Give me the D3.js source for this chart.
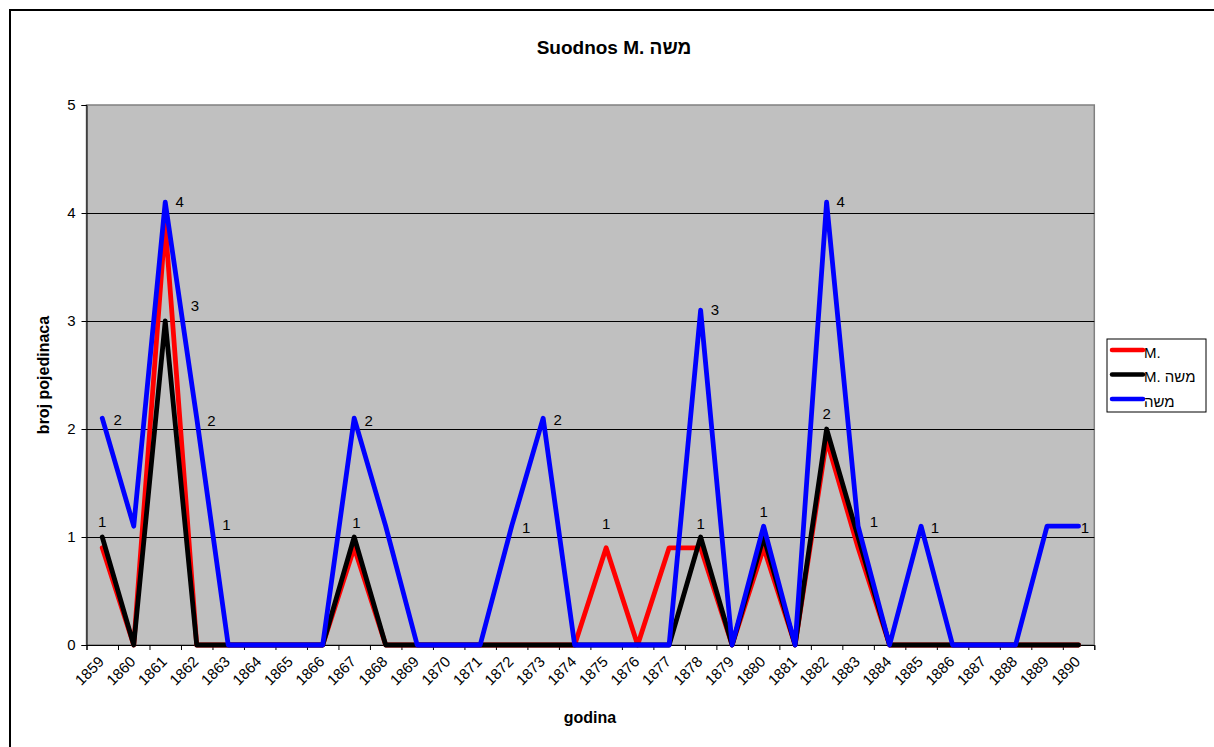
<!DOCTYPE html>
<html>
<head>
<meta charset="utf-8">
<script src="https://cdn.jsdelivr.net/npm/d3@7"></script>
<style>
  body { margin: 0; background: #fff; }
  text { font-family: "Liberation Sans", Arial, sans-serif; }
</style>
</head>
<body>
<div id="chart"></div>
<script>
// years on the x axis
var years = d3.range(1859, 1891);

// series values as plotted (Excel chart shifts the lines slightly)
var seriesNames = ["M.", "M. משה", "משה"];
var seriesColors = ["#ff0000", "#000000", "#0000ff"];

var valuesM = [0.9, 0, 3.9, 0, 0, 0, 0, 0, 0.9, 0, 0, 0, 0, 0, 0, 0,
               0.9, 0, 0.9, 0.9, 0, 0.9, 0, 1.9, 0.9, 0, 0, 0, 0, 0, 0, 0];
var valuesMMoshe = [1, 0, 3, 0, 0, 0, 0, 0, 1, 0, 0, 0, 0, 0, 0, 0,
                    0, 0, 0, 1, 0, 1, 0, 2, 1, 0, 0, 0, 0, 0, 0, 0];
var valuesMoshe = [2.1, 1.1, 4.1, 2.1, 0, 0, 0, 0, 2.1, 1.1, 0, 0, 0, 1.1, 2.1, 0,
                   0, 0, 0, 3.1, 0, 1.1, 0, 4.1, 1.1, 0, 1.1, 0, 0, 0, 1.1, 1.1];

// data labels (year position, value position, text)
var labelYears = [1859, 1859.49, 1861.46, 1861.94, 1862.47, 1862.94, 1867.07, 1867.46,
                  1872.46, 1873.46, 1875, 1878, 1878.45, 1880, 1882, 1882.45, 1883.5,
                  1885.44, 1890.2];
var labelValues = [1.14, 2.09, 4.1, 3.14, 2.08, 1.11, 1.13, 2.08,
                   1.09, 2.09, 1.12, 1.12, 3.1, 1.23, 2.14, 4.1, 1.14,
                   1.09, 1.09];
var labelTexts = ["1", "2", "4", "3", "2", "1", "1", "2",
                  "1", "2", "1", "1", "3", "1", "2", "4", "1",
                  "1", "1"];

var yTicks = [0, 1, 2, 3, 4, 5];

var svgWidth = 1214;
var svgHeight = 747;

var plot = { left: 86.5, right: 1094.3, top: 105, bottom: 645 };

var svg = d3.select("#chart")
  .append("svg")
  .attr("width", svgWidth)
  .attr("height", svgHeight);

// outer chart border (runs off right/bottom edge)
svg.append("rect")
  .attr("x", 10)
  .attr("y", 10)
  .attr("width", svgWidth + 20)
  .attr("height", svgHeight + 20)
  .attr("fill", "#fff")
  .attr("stroke", "#000")
  .attr("stroke-width", 2);

var x = d3.scaleLinear()
  .domain([1858.5, 1890.5])
  .range([plot.left, plot.right]);

var y = d3.scaleLinear()
  .domain([0, 5])
  .range([plot.bottom, plot.top]);

// plot background
svg.append("rect")
  .attr("x", plot.left)
  .attr("y", plot.top)
  .attr("width", plot.right - plot.left)
  .attr("height", plot.bottom - plot.top)
  .attr("fill", "#c0c0c0")
  .attr("stroke", "#808080")
  .attr("stroke-width", 1.5);

// gridlines
svg.append("g")
  .selectAll("line")
  .data(yTicks.slice(1, 5))
  .enter()
  .append("line")
  .attr("x1", plot.left)
  .attr("x2", plot.right)
  .attr("y1", d => Math.round(y(d)) + 0.5)
  .attr("y2", d => Math.round(y(d)) + 0.5)
  .attr("stroke", "#000")
  .attr("stroke-width", 1);

// y axis
var leftAxis = d3.axisLeft(y)
  .tickValues(yTicks)
  .tickSize(5)
  .tickPadding(6)
  .tickFormat(d3.format("d"));

var yAxisG = svg.append("g")
  .attr("transform", `translate(${plot.left}, 0)`)
  .call(leftAxis);
yAxisG.select(".domain").attr("stroke", "#000");
yAxisG.selectAll("text")
  .attr("font-size", 15)
  .attr("font-family", "Liberation Sans, Arial, sans-serif")
  .attr("fill", "#000");

// x axis: tick marks between categories, labels on categories
var tickBounds = d3.range(1858.5, 1891.5, 1);
var xTickAxis = d3.axisBottom(x)
  .tickValues(tickBounds)
  .tickSize(5)
  .tickFormat("");

var xAxisG = svg.append("g")
  .attr("transform", `translate(0, ${plot.bottom})`)
  .call(xTickAxis);
xAxisG.select(".domain").attr("stroke", "#000");

svg.append("g")
  .selectAll("text")
  .data(years)
  .enter()
  .append("text")
  .attr("transform", d => `translate(${x(d) - 1}, ${plot.bottom + 14}) rotate(-45)`)
  .attr("text-anchor", "end")
  .attr("dy", "0.35em")
  .attr("font-size", 15)
  .attr("fill", "#000")
  .text(d => d);

// lines
var allSeries = [valuesM, valuesMMoshe, valuesMoshe];

var line = d3.line()
  .x((d, i) => x(years[i]))
  .y(d => y(d));

svg.append("g")
  .selectAll("path")
  .data(allSeries)
  .enter()
  .append("path")
  .attr("d", d => line(d))
  .attr("fill", "none")
  .attr("stroke", (d, i) => seriesColors[i])
  .attr("stroke-width", 4.8)
  .attr("stroke-linejoin", "round")
  .attr("stroke-linecap", "round");

// data labels
svg.append("g")
  .selectAll("text")
  .data(labelTexts)
  .enter()
  .append("text")
  .attr("x", (d, i) => x(labelYears[i]))
  .attr("y", (d, i) => y(labelValues[i]))
  .attr("dy", "0.35em")
  .attr("text-anchor", "middle")
  .attr("font-size", 15)
  .attr("fill", "#000")
  .text(d => d);

// title
svg.append("text")
  .attr("x", 614)
  .attr("y", 54)
  .attr("text-anchor", "middle")
  .attr("font-size", 19)
  .attr("font-weight", "bold")
  .text("Suodnos M. משה");

// axis titles
svg.append("text")
  .attr("x", 590)
  .attr("y", 723)
  .attr("text-anchor", "middle")
  .attr("font-size", 16)
  .attr("font-weight", "bold")
  .text("godina");

svg.append("text")
  .attr("transform", `translate(49, ${(plot.top + plot.bottom) / 2}) rotate(-90)`)
  .attr("text-anchor", "middle")
  .attr("font-size", 16)
  .attr("font-weight", "bold")
  .text("broj pojedinaca");

// legend
var legend = svg.append("g")
  .attr("transform", "translate(1107, 339)");

legend.append("rect")
  .attr("width", 99)
  .attr("height", 73)
  .attr("fill", "#fff")
  .attr("stroke", "#000")
  .attr("stroke-width", 1);

var legendItems = legend.selectAll(".item")
  .data(seriesNames)
  .enter()
  .append("g")
  .attr("class", "item")
  .attr("transform", (d, i) => `translate(0, ${11 + i * 24.5})`);

legendItems.append("line")
  .attr("x1", 5)
  .attr("x2", 36)
  .attr("stroke", (d, i) => seriesColors[i])
  .attr("stroke-width", 4.5)
  .attr("stroke-linecap", "round");

legendItems.append("text")
  .attr("x", 37)
  .attr("dy", "0.5em")
  .attr("font-size", 15)
  .text(d => d);
</script>
</body>
</html>
